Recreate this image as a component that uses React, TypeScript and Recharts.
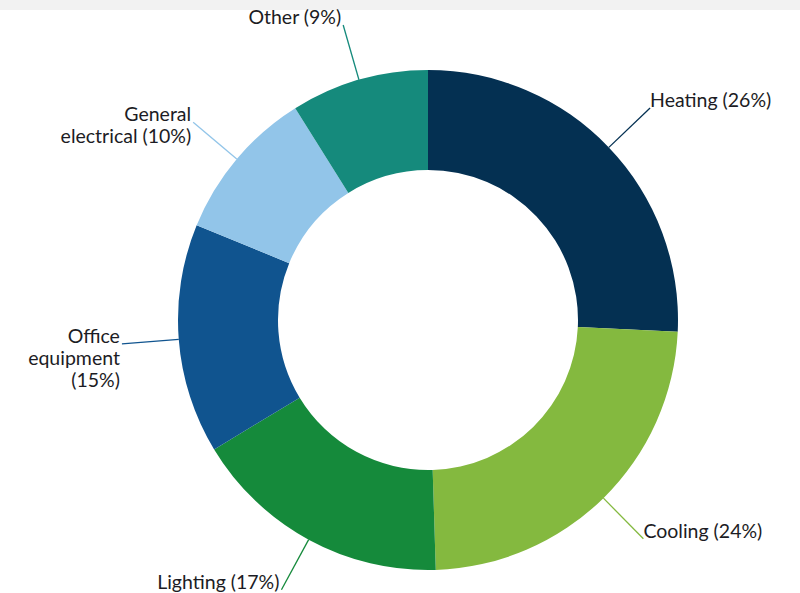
import { Pie, PieChart, Cell } from "recharts";

const categories = ["Heating", "Cooling", "Lighting", "Office equipment", "General electrical", "Other"];
const shares = [26, 24, 17, 15, 10, 9];
const labelLines = [
  ["Heating (26%)"],
  ["Cooling (24%)"],
  ["Lighting (17%)"],
  ["Office", "equipment", "(15%)"],
  ["General", "electrical (10%)"],
  ["Other (9%)"],
];
const colors = ["#043052", "#84b93f", "#158a3b", "#10548f", "#92c5e9", "#158a7c"];

const data = categories.map((name, i) => ({ name, value: shares[i] }));

const RADIAN = Math.PI / 180;

const renderLabel = (props: any) => {
  const { cx, cy, midAngle, outerRadius, index } = props;
  const cos = Math.cos(-midAngle * RADIAN);
  const sin = Math.sin(-midAngle * RADIAN);
  const sx = cx + outerRadius * cos;
  const sy = cy + outerRadius * sin;
  const ex = cx + (outerRadius + 57) * cos;
  const ey = cy + (outerRadius + 57) * sin;
  const right = cos >= 0;
  const tx = right ? ex : ex - 2;
  const lines = labelLines[index];
  return (
    <g>
      <line x1={sx} y1={sy} x2={ex} y2={ey} stroke={colors[index]} strokeWidth={1.3} />
      <text
        x={tx}
        y={ey - 1}
        textAnchor={right ? "start" : "end"}
        fill="#1c1c24"
        fontSize={19.5}
        fontFamily="Lato, sans-serif"
      >
        {lines.map((l, i) => (
          <tspan key={i} x={tx} dy={i === 0 ? 0 : 22}>
            {l}
          </tspan>
        ))}
      </text>
    </g>
  );
};

const App = () => {
  return (
    <div style={{ position: "absolute", left: 0, top: 0, width: 800, height: 593, background: "#fff" }}>
      <div style={{ position: "absolute", left: 0, top: 0, width: 800, height: 10, background: "#f2f2f2" }} />
      <PieChart width={800} height={593} style={{ position: "absolute", left: 0, top: 0 }}>
        <Pie
          data={data}
          dataKey="value"
          nameKey="name"
          cx={423}
          cy={315}
          innerRadius={150}
          outerRadius={250}
          startAngle={90}
          endAngle={-270}
          stroke="none"
          label={renderLabel}
          labelLine={false}
          isAnimationActive={false}
        >
          {data.map((d, i) => (
            <Cell key={d.name} fill={colors[i]} />
          ))}
        </Pie>
      </PieChart>
    </div>
  );
};

export default App;
